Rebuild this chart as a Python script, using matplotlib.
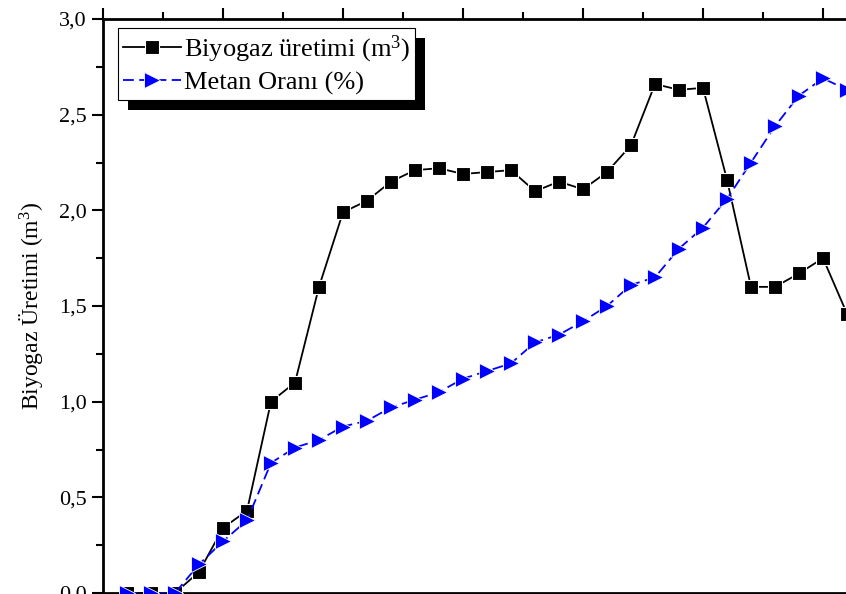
import matplotlib
matplotlib.use('Agg')
import matplotlib.pyplot as plt
import matplotlib.patheffects as pe
from matplotlib.ticker import MultipleLocator, FuncFormatter

plt.rcParams['font.family'] = ['Liberation Serif', 'DejaVu Serif']
plt.rcParams['mathtext.fontset'] = 'custom'
plt.rcParams['mathtext.rm'] = 'Liberation Serif'
plt.rcParams['mathtext.it'] = 'Liberation Serif:italic'

# gün (day) 1..31
days = list(range(1, 32))
biyogaz = [0.0, 0.0, 0.0, 0.11, 0.34, 0.43, 1.00, 1.10, 1.60, 1.99,
           2.05, 2.15, 2.21, 2.22, 2.19, 2.20, 2.21, 2.10, 2.15, 2.11,
           2.20, 2.34, 2.66, 2.63, 2.64, 2.16, 1.60, 1.60, 1.67, 1.75,
           1.46]
metan = [0.0, 0.0, 0.0, 0.15, 0.27, 0.38, 0.68, 0.76, 0.80, 0.87,
         0.90, 0.97, 1.01, 1.05, 1.12, 1.16, 1.20, 1.31, 1.35, 1.42,
         1.50, 1.61, 1.65, 1.80, 1.91, 2.06, 2.25, 2.44, 2.60, 2.69,
         2.63]

fig = plt.figure(figsize=(8.46, 5.94), dpi=100)
# axes run past the right and bottom edge, like the cropped original
ax = fig.add_axes([103 / 846, 1 / 594, 840 / 846, 574 / 594])

ax.plot(days, biyogaz, color='black', lw=1.3, marker='s', ms=10,
        mfc='black', mec='white', mew=0.8, label='Biyogaz üretimi (m$^{3}$)',
        zorder=3)
ax.plot(days, metan, color='blue', lw=1.3, ls=(0, (6, 3)), marker='>',
        ms=12, mfc='blue', mec='white', mew=0.6, label='Metan Oranı (%)',
        zorder=3)

ax.set_xlim(0, 35)
ax.set_ylim(0, 3.0)
ax.xaxis.set_major_locator(MultipleLocator(5))
ax.xaxis.set_minor_locator(MultipleLocator(2.5))
ax.yaxis.set_major_locator(MultipleLocator(0.5))
ax.yaxis.set_minor_locator(MultipleLocator(0.25))
ax.yaxis.set_major_formatter(FuncFormatter(lambda v, p: f'{v:.1f}'.replace('.', ',')))

ax.tick_params(which='both', direction='out', top=True, right=True, width=1.5,
               labelsize=16, labelbottom=False)
ax.tick_params(which='major', length=8)
ax.tick_params(which='minor', length=5)
for sp in ax.spines.values():
    sp.set_linewidth(2)

ax.set_ylabel('Biyogaz Üretimi (m$^{3}$)', fontsize=17, labelpad=10)

leg = ax.legend(loc='upper left', bbox_to_anchor=(15 / 840, 1 - 9 / 574),
                fontsize=19, fancybox=False, framealpha=1, edgecolor='black',
                handlelength=2.2, handletextpad=0.1, labelspacing=0.25,
                borderpad=0.2, borderaxespad=0)
leg.get_frame().set_linewidth(0.8)
leg.get_frame().set_path_effects([
    pe.SimplePatchShadow(offset=(7, -7), shadow_rgbFace='black', alpha=1),
    pe.Normal()])

fig.savefig('out.png', dpi=100)
